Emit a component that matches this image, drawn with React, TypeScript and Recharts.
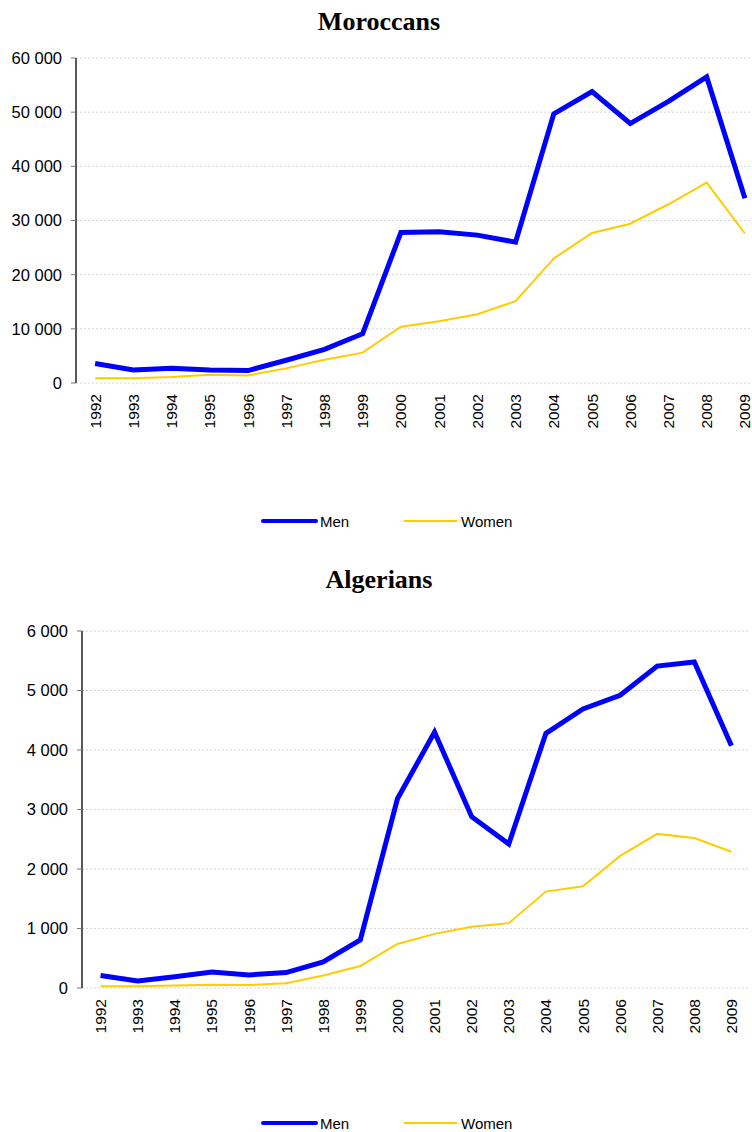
import React from "react"
import { LineChart, Line, XAxis, YAxis, CartesianGrid } from "recharts"

const years = [
  "1992", "1993", "1994", "1995", "1996", "1997", "1998", "1999", "2000",
  "2001", "2002", "2003", "2004", "2005", "2006", "2007", "2008", "2009",
]

const moroccanMen = [3600, 2400, 2700, 2400, 2300, 4200, 6200, 9100, 27800, 27900, 27300, 26000, 49700, 53800, 47900, 52000, 56500, 34100]
const moroccanWomen = [900, 900, 1100, 1500, 1400, 2700, 4300, 5600, 10400, 11400, 12700, 15100, 23000, 27700, 29400, 33000, 37000, 27600]

const algerianMen = [210, 120, 190, 270, 220, 260, 440, 810, 3180, 4300, 2880, 2420, 4280, 4690, 4920, 5410, 5480, 4070]
const algerianWomen = [30, 30, 40, 55, 50, 80, 210, 370, 740, 910, 1030, 1090, 1620, 1710, 2220, 2590, 2520, 2290]

const moroccanTicks = [0, 10000, 20000, 30000, 40000, 50000, 60000]
const algerianTicks = [0, 1000, 2000, 3000, 4000, 5000, 6000]
const edgeTicks = years.map((_, i) => i).concat(years.length)

const series = [
  { key: "men", name: "Men", color: "#0000FF", width: 5 },
  { key: "women", name: "Women", color: "#FFCC00", width: 2 },
]

const SANS = "'Liberation Sans', Arial, sans-serif"
const SERIF = "'Liberation Serif', 'Times New Roman', serif"

const fmt = (v: number) => String(v).replace(/\B(?=(\d{3})+(?!\d))/g, " ")

const build = (men: number[], women: number[]) =>
  years.map((year, idx) => ({ year, idx, men: men[idx], women: women[idx] }))

const moroccanData = build(moroccanMen, moroccanWomen)
const algerianData = build(algerianMen, algerianWomen)

const YearTick = (props: any) => {
  const { x, y, payload } = props
  return (
    <text
      x={x}
      y={y}
      transform={`rotate(-90 ${x} ${y})`}
      textAnchor="end"
      dominantBaseline="central"
      fontSize={15.5}
      fontFamily={SANS}
      fill="#000"
    >
      {payload.value}
    </text>
  )
}

const Blank = () => <g />

type PanelProps = {
  data: any[]
  ticks: number[]
  width: number
  height: number
  left: number
}

function Panel({ data, ticks, width, height, left }: PanelProps) {
  const plotW = width - left - 70
  const half = plotW / years.length / 2
  return (
    <LineChart width={width} height={height} data={data} margin={{ top: 58, right: 0, left, bottom: 0 }}>
      <CartesianGrid vertical={false} stroke="#d4d4d4" strokeDasharray="2 2" />
      <XAxis
        xAxisId="edge"
        type="number"
        dataKey="idx"
        domain={[0, years.length]}
        ticks={edgeTicks}
        tick={Blank}
        tickSize={4}
        tickLine={{ stroke: "#888" }}
        axisLine={{ stroke: "#000", strokeWidth: 1.3 }}
        height={0}
        allowDataOverflow
      />
      <XAxis
        dataKey="year"
        interval={0}
        padding={{ left: half, right: half }}
        tick={YearTick}
        tickLine={false}
        axisLine={false}
        tickSize={0}
        tickMargin={11}
        height={60}
      />
      <YAxis
        domain={[ticks[0], ticks[ticks.length - 1]]}
        ticks={ticks}
        tickFormatter={fmt}
        width={70}
        tickSize={5}
        tickMargin={9}
        tickLine={{ stroke: "#777" }}
        axisLine={{ stroke: "#000", strokeWidth: 1.3 }}
        tick={{ fill: "#000", fontSize: 16.5, fontFamily: SANS }}
      />
      {series.map((s) => (
        <Line
          key={s.key}
          type="linear"
          dataKey={s.key}
          name={s.name}
          stroke={s.color}
          strokeWidth={s.width}
          dot={false}
          activeDot={false}
          isAnimationActive={false}
        />
      ))}
    </LineChart>
  )
}

function Legend({ top }: { top: number }) {
  const items = [
    { ...series[0], x: 263 },
    { ...series[1], x: 404 },
  ]
  return (
    <svg width={752} height={24} style={{ position: "absolute", left: 0, top: top - 12 }}>
      {items.map((it) => (
        <g key={it.key}>
          <line x1={it.x} x2={it.x + 53} y1={12} y2={12} stroke={it.color} strokeWidth={it.width === 5 ? 4 : 2} strokeLinecap={it.width === 5 ? "round" : "butt"} />
          <text x={it.x + 57} y={17.5} fontSize={15} fontFamily={SANS} fill="#000">
            {it.name}
          </text>
        </g>
      ))}
    </svg>
  )
}

const titleStyle: React.CSSProperties = {
  position: "absolute",
  left: 0,
  width: 758,
  textAlign: "center",
  fontFamily: SERIF,
  fontWeight: "bold",
  fontSize: 26,
  lineHeight: "26px",
  color: "#000",
}

export default function App() {
  return (
    <div style={{ position: "absolute", left: 0, top: 0, width: 752, height: 1132, overflow: "hidden", background: "#fff" }}>
      <div style={{ ...titleStyle, top: 9 }}>Moroccans</div>
      <div style={{ position: "absolute", left: 0, top: 0 }}>
        <Panel data={moroccanData} ticks={moroccanTicks} width={764} height={443} left={6} />
      </div>
      <Legend top={521} />

      <div style={{ ...titleStyle, top: 567 }}>Algerians</div>
      <div style={{ position: "absolute", left: 0, top: 573 }}>
        <Panel data={algerianData} ticks={algerianTicks} width={750} height={475} left={12} />
      </div>
      <Legend top={1123} />
    </div>
  )
}
